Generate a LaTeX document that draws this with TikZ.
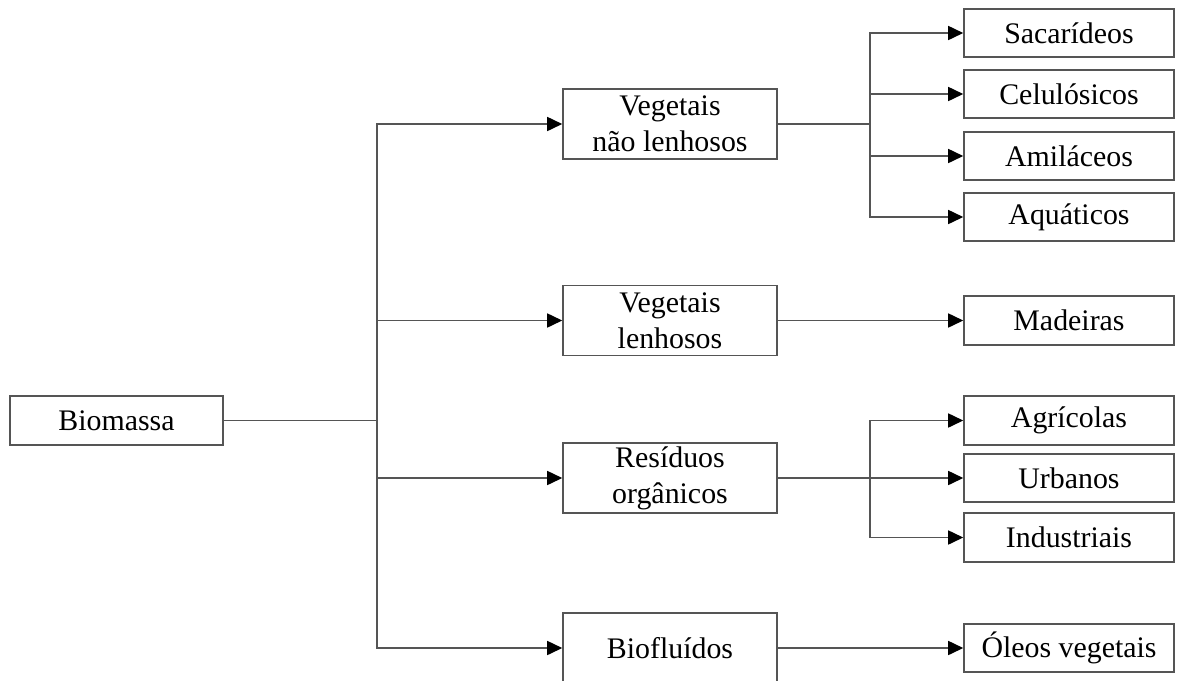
\documentclass[tikz,border=0pt]{standalone}
\usepackage{fontspec}
\setmainfont{Liberation Serif}
\usetikzlibrary{arrows.meta, positioning}
\definecolor{linegray}{RGB}{85,85,85}

\begin{document}
\begin{tikzpicture}[
            x=0.02cm, y=-0.02cm,
            bnode/.style={draw=linegray, line width=0.9pt, rectangle, align=center,
                          inner sep=0pt, font=\fontsize{17}{20.5}\selectfont},
            mid/.style={bnode, minimum width=4.28cm, minimum height=1.4cm},
            leaf/.style={bnode, minimum width=4.2cm, minimum height=0.97cm},
            link/.style={draw=linegray, line width=0.9pt, line cap=rect},
            arrow/.style={draw=linegray, line width=0.9pt, -{Triangle[length=0.3cm, width=0.28cm, color=black, fill=black]}}
        ]
        \useasboundingbox (0,0) rectangle (1177,680);
        % --- root ---
        \node[bnode, minimum width=4.26cm, minimum height=0.98cm] (bio) at (116.5,420.5) {Biomassa};
        % --- middle column ---
        \node[mid] (vnl)  at (670,124) {Vegetais\\não lenhosos};
        \node[mid] (vl)   at (670,320.5) {Vegetais\\lenhosos};
        \node[mid] (res)  at (670,478) {Resíduos\\orgânicos};
        \node[mid] (biof) at (670,648) {Biofluídos};
        % --- right column ---
        \node[leaf] (sac) at (1069,33) {Sacarídeos};
        \node[leaf] (cel) at (1069,94) {Celulósicos};
        \node[leaf] (ami) at (1069,156) {Amiláceos};
        \node[leaf] (aqu) at (1069,217) {Aquáticos};
        \node[leaf] (mad) at (1069,320.5) {Madeiras};
        \node[leaf] (agr) at (1069,420.5) {Agrícolas};
        \node[leaf] (urb) at (1069,478) {Urbanos};
        \node[leaf] (ind) at (1069,537.5) {Industriais};
        \node[leaf] (ole) at (1069,648) {Óleos vegetais};
        % --- branch lines ---
        \coordinate (trunk) at (377,0);
        \coordinate (split) at (870,0);
        \draw[link] (bio.east) -- (bio.east -| trunk);
        \draw[link] (vnl.west -| trunk) -- (biof.west -| trunk);
        \foreach \m in {vnl, vl, res, biof}
            \draw[arrow] (\m.west -| trunk) -- (\m.west);
        % vegetais nao lenhosos
        \draw[link] (vnl.east) -- (vnl.east -| split);
        \draw[link] (sac.west -| split) -- (aqu.west -| split);
        \foreach \r in {sac, cel, ami, aqu}
            \draw[arrow] (\r.west -| split) -- (\r.west);
        % lenhosos, biofluidos
        \draw[arrow] (vl.east) -- (mad.west);
        \draw[arrow] (biof.east) -- (ole.west);
        % residuos
        \draw[link] (agr.west -| split) -- (ind.west -| split);
        \draw[arrow] (res.east) -- (urb.west);
        \foreach \r in {agr, ind}
            \draw[arrow] (\r.west -| split) -- (\r.west);
\end{tikzpicture}
\end{document}
